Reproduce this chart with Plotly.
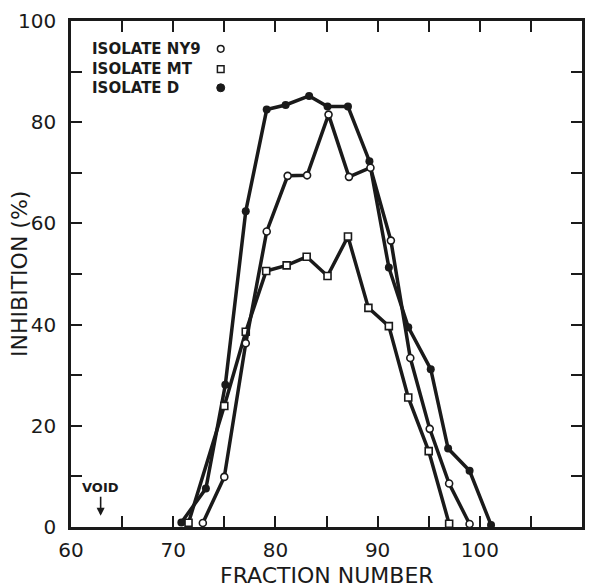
import plotly.graph_objects as go

# Data
ny9_x = [72.9, 75.0, 77.1, 79.15, 81.2, 83.1, 85.2, 87.2, 89.3, 91.3, 93.2, 95.1, 97.0, 99.0]
ny9_y = [0.8, 9.9, 36.3, 58.4, 69.4, 69.5, 81.5, 69.2, 71.0, 56.6, 33.4, 19.4, 8.6, 0.6]

mt_x = [71.5, 75.0, 77.1, 79.1, 81.1, 83.06, 85.1, 87.1, 89.1, 91.1, 93.0, 95.0, 97.0]
mt_y = [0.85, 23.9, 38.6, 50.6, 51.7, 53.4, 49.6, 57.4, 43.3, 39.7, 25.6, 15.0, 0.65]

d_x = [70.8, 73.2, 75.1, 77.1, 79.15, 81.0, 83.3, 85.1, 87.1, 89.2, 91.1, 93.0, 95.2, 96.9, 99.0, 101.1]
d_y = [0.9, 7.6, 28.1, 62.4, 82.5, 83.4, 85.2, 83.1, 83.1, 72.3, 51.3, 39.5, 31.2, 15.5, 11.1, 0.4]

legend_labels = ["ISOLATE NY9", "ISOLATE MT", "ISOLATE D"]
x_ticks = [60, 70, 80, 90, 100, 110]
y_ticks = [0, 20, 40, 60, 80, 100]
x_title = "FRACTION NUMBER"
y_title = "INHIBITION (%)"

FONT = "DejaVu Sans"
INK = "#1a1a1a"

fig = go.Figure()
fig.add_trace(go.Scatter(x=d_x, y=d_y, mode="lines+markers", name=legend_labels[2],
                         line=dict(color=INK, width=3.5),
                         marker=dict(symbol="circle", size=8, color=INK)))
fig.add_trace(go.Scatter(x=mt_x, y=mt_y, mode="lines+markers", name=legend_labels[1],
                         line=dict(color=INK, width=3.5),
                         marker=dict(symbol="square", size=7, color="white",
                                     line=dict(color=INK, width=1.6))))
fig.add_trace(go.Scatter(x=ny9_x, y=ny9_y, mode="lines+markers", name=legend_labels[0],
                         line=dict(color=INK, width=3.5),
                         marker=dict(symbol="circle", size=7, color="white",
                                     line=dict(color=INK, width=1.6))))

# Legend as text + symbols (symbols to the right of the text)
legend_rows_y = [0.945, 0.905, 0.868]
for lbl, yy in zip(legend_labels, legend_rows_y):
    fig.add_annotation(xref="paper", yref="paper", x=0.038, y=yy, text="<b>" + lbl + "</b>",
                       showarrow=False, xanchor="left", yanchor="middle",
                       font=dict(family=FONT, size=15, color=INK))
sym_x = 0.293
r = 0.0065
ry = r * 511 / 506
fig.add_shape(type="circle", xref="paper", yref="paper",
              x0=sym_x - r, x1=sym_x + r, y0=legend_rows_y[0] - ry, y1=legend_rows_y[0] + ry,
              line=dict(color=INK, width=1.5), fillcolor="white")
fig.add_shape(type="rect", xref="paper", yref="paper",
              x0=sym_x - r, x1=sym_x + r, y0=legend_rows_y[1] - ry, y1=legend_rows_y[1] + ry,
              line=dict(color=INK, width=1.5), fillcolor="white")
fig.add_shape(type="circle", xref="paper", yref="paper",
              x0=sym_x - r * 1.2, x1=sym_x + r * 1.2, y0=legend_rows_y[2] - ry * 1.2, y1=legend_rows_y[2] + ry * 1.2,
              line=dict(color=INK, width=1), fillcolor=INK)

# VOID marker
fig.add_annotation(x=62.9, y=2.2, text="<b>VOID</b>", showarrow=True, ax=0, ay=-28,
                   arrowhead=2, arrowsize=1, arrowwidth=1.6, arrowcolor=INK,
                   font=dict(family=FONT, size=13, color=INK))

# Axis titles as annotations (placed like the reference)
fig.add_annotation(xref="paper", yref="paper", x=0.5, y=-0.096, text=x_title,
                   showarrow=False, xanchor="center", yanchor="middle",
                   font=dict(family=FONT, size=22, color=INK))
fig.add_annotation(xref="paper", yref="paper", x=-0.102, y=0.5, text=y_title, textangle=-90,
                   showarrow=False, xanchor="center", yanchor="middle",
                   font=dict(family=FONT, size=22, color=INK))

fig.update_layout(
    width=594, height=587,
    margin=dict(l=71, r=12, t=21, b=60, autoexpand=False),
    paper_bgcolor="white", plot_bgcolor="white",
    showlegend=False,
    font=dict(family=FONT, color=INK),
)
fig.update_xaxes(
    range=[60, 110], tickvals=x_ticks, ticktext=[str(v) for v in x_ticks],
    ticks="inside", ticklen=11, tickwidth=2, tickcolor=INK, ticklabelstandoff=3,
    minor=dict(dtick=5, tick0=60, ticks="inside", ticklen=11, tickwidth=2, tickcolor=INK),
    showline=True, linewidth=2.5, linecolor=INK, mirror="ticks",
    showgrid=False, zeroline=False, automargin=False,
    tickfont=dict(family=FONT, size=20, color=INK),
)
fig.update_yaxes(
    range=[0, 100], tickvals=y_ticks, ticktext=[str(v) for v in y_ticks],
    ticks="inside", ticklen=11, tickwidth=2, tickcolor=INK, ticklabelstandoff=8,
    minor=dict(dtick=10, tick0=0, ticks="inside", ticklen=11, tickwidth=2, tickcolor=INK),
    showline=True, linewidth=2.5, linecolor=INK, mirror="ticks",
    showgrid=False, zeroline=False, automargin=False,
    tickfont=dict(family=FONT, size=20, color=INK),
)

fig.write_html("out.html", config={"displayModeBar": False},
               post_script="document.body.style.margin='0';")
